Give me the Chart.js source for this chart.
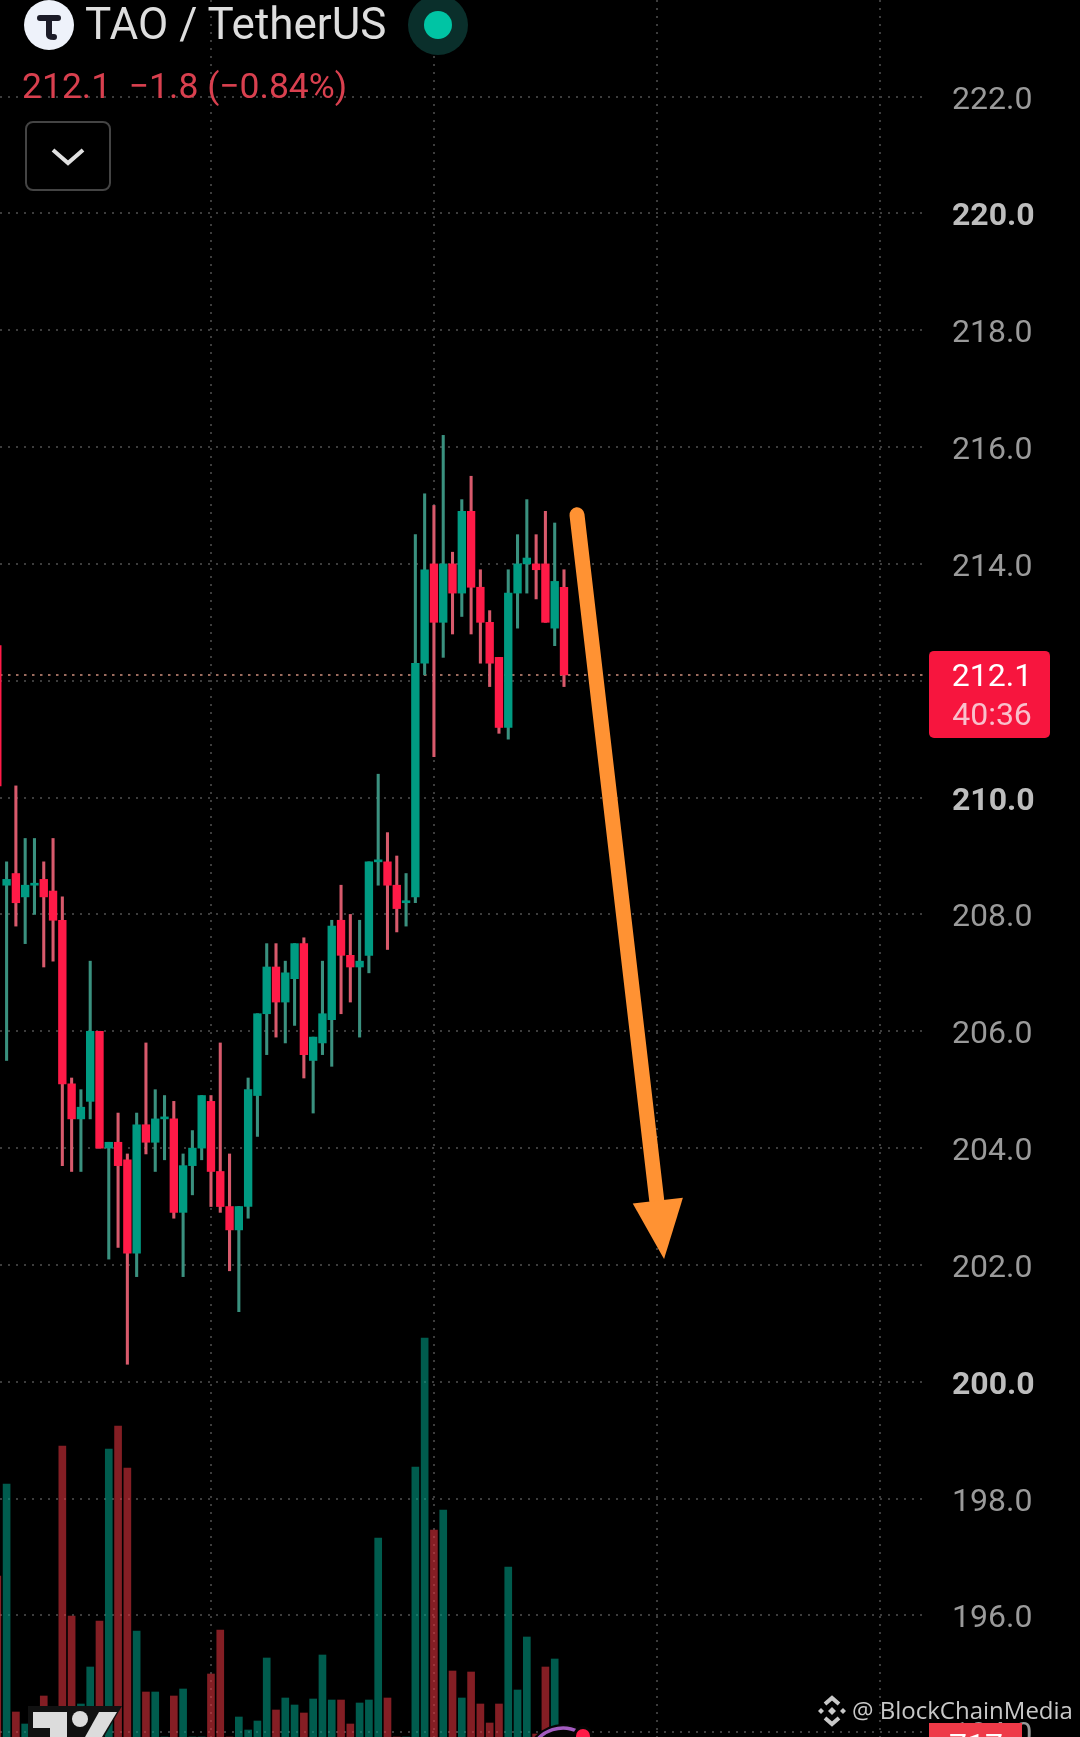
<!DOCTYPE html>
<html>
<head>
<meta charset="utf-8">
<title>TAO / TetherUS</title>
<script src="https://cdn.jsdelivr.net/npm/chart.js@4"></script>
<style>
    html, body { margin: 0; padding: 0; background: #000; }
    #wrap { position: relative; width: 1080px; height: 1737px; overflow: hidden; }
    canvas { position: absolute; left: 0; top: 0; }
    .label { position: absolute; white-space: pre; line-height: 1; font-family: Roboto, sans-serif; }
    #symbol { left: 85px; top: 2px; font-size: 44px; color: #dedede; }
    #quote { left: 22px; top: 69px; font-size: 35.5px; color: #d9404f; }
    #credit { left: 852px; top: 1698px; font-size: 24px; color: #c8c8c8; font-family: "Open Sans", sans-serif; }
</style>
</head>
<body>
<div id="wrap">
    <canvas id="chart" width="1080" height="1737"></canvas>
    <div class="label" id="symbol">TAO / TetherUS</div>
    <div class="label" id="quote">212.1  −1.8 (−0.84%)</div>
    <div class="label" id="credit">@ BlockChainMedia</div>
</div>
<script>
const opens = [212.6, 208.5, 208.7, 208.3, 208.5, 208.6, 208.4, 207.9, 205.1, 204.5, 204.8, 206.0, 204.0, 204.1, 203.8, 202.2, 204.4, 204.1, 204.5, 204.5, 202.9, 203.7, 204.0, 204.8, 203.6, 203.0, 202.6, 203.0, 204.9, 206.3, 207.1, 206.5, 206.9, 207.5, 205.5, 205.8, 206.2, 207.9, 207.3, 207.1, 207.3, 208.9, 208.9, 208.5, 208.2, 208.3, 212.3, 214.0, 213.0, 214.0, 213.5, 214.9, 213.6, 213.0, 212.4, 211.2, 213.5, 214.0, 214.0, 214.0, 212.9, 213.6];
const highs = [212.6, 208.9, 210.2, 209.3, 209.3, 208.9, 209.3, 208.3, 205.2, 205.0, 207.2, 206.0, 204.1, 204.6, 203.9, 204.6, 205.8, 205.0, 204.9, 204.8, 203.9, 204.3, 204.9, 204.9, 205.8, 203.9, 203.0, 205.2, 206.3, 207.5, 207.5, 207.2, 207.5, 207.6, 205.9, 207.2, 207.9, 208.5, 208.0, 207.9, 208.9, 210.4, 209.4, 209.0, 208.7, 214.5, 215.2, 215.0, 216.2, 214.2, 215.1, 215.5, 213.9, 213.2, 212.4, 213.9, 214.5, 215.1, 214.5, 214.9, 214.7, 213.9];
const lows = [210.2, 205.5, 207.8, 207.5, 208.0, 207.1, 207.2, 203.7, 203.6, 203.6, 204.5, 204.0, 202.1, 202.3, 200.3, 201.8, 203.9, 203.6, 203.8, 202.8, 201.8, 203.2, 203.8, 203.0, 202.9, 201.9, 201.2, 202.8, 204.2, 205.6, 205.9, 205.8, 206.1, 205.2, 204.6, 205.6, 205.4, 206.3, 206.5, 205.9, 207.0, 208.5, 207.4, 207.7, 207.8, 208.2, 212.1, 210.7, 212.4, 212.8, 213.1, 212.8, 212.3, 211.9, 211.1, 211.0, 212.9, 213.5, 213.4, 213.0, 212.6, 211.9];
const closes = [210.2, 208.6, 208.2, 208.5, 208.5, 208.3, 207.9, 205.1, 204.5, 204.7, 206.0, 204.0, 204.1, 203.7, 202.2, 204.4, 204.1, 204.5, 204.5, 202.9, 203.7, 204.0, 204.9, 203.6, 203.0, 202.6, 203.0, 205.0, 206.3, 207.1, 206.5, 207.0, 207.5, 205.6, 205.9, 206.3, 207.8, 207.3, 207.1, 207.2, 208.9, 208.9, 208.5, 208.1, 208.2, 212.3, 213.9, 213.0, 214.0, 213.5, 214.9, 213.6, 213.0, 212.3, 211.2, 213.5, 214.0, 214.1, 213.9, 213.0, 213.7, 212.1];
const volumes = [16.1, 25.3, 2.5, 1.3, 0.4, 4.1, 1.7, 29.1, 12.1, 3.3, 7.0, 11.6, 28.8, 31.1, 26.9, 10.6, 4.5, 4.5, 0, 4.1, 4.8, 0, 0, 6.3, 10.7, 0, 2.0, 0.7, 1.6, 7.9, 2.7, 3.9, 3.2, 2.4, 3.8, 8.2, 3.7, 3.7, 1.3, 3.4, 3.7, 19.9, 3.9, 0, 0, 27.0, 39.9, 20.7, 22.7, 6.6, 3.9, 6.5, 3.3, 1.4, 3.3, 17.0, 4.7, 10.0, 0.3, 7.0, 7.8, 0.5];

const priceTicks = [194, 196, 198, 200, 202, 204, 206, 208, 210, 212, 214, 216, 218, 220, 222];
const boldTicks = [200, 210, 220];
const gridCandles = [23, 47, 71, 95];
const lastPrice = 212.1;
const countdown = "40:36";
const volumeBadge = "717";

// arrow drawn on the chart: tail, neck, head left, tip, head right (candle number / price)
const arrowCandles = [62.4, 70.98, 68.4, 71.77, 73.8];
const arrowPrices = [214.84, 203.11, 203.05, 202.1, 203.15];

const GREEN = "#009b82";
const RED = "#ff1a47";
const GREEN_WICK = "#3a917f";
const RED_WICK = "#d85a6c";
const GREEN_VOL = "rgba(0, 153, 130, 0.6)";
const RED_VOL = "rgba(220, 50, 60, 0.6)";
const GRID = "#3d3d3d";

const isUp = closes.map((c, i) => c >= opens[i]);

const wicks = highs.map((h, i) => ({ x: i, y: [lows[i], h] }));
const bodies = opens.map((o, i) => ({ x: i, y: [Math.min(o, closes[i]), Math.max(o, closes[i])] }));
const volumeBars = volumes.map((v, i) => ({ x: i, y: v }));

const xMin = 0.29;
const xMax = 99.86;

// the tick context is empty while Chart.js measures the axis
const isBoldTick = c => !!c.tick && boldTicks.includes(c.tick.value);

// plot goes edge to edge, labels may run off the top and bottom
function dropPadding(scale) {
    scale.paddingTop = 0;
    scale.paddingBottom = 0;
    scale.paddingLeft = 0;
    scale.paddingRight = 0;
}

// everything Chart.js has no element for: arrow, badges and the small icons
const overlay = {
    id: "overlay",
    afterDraw(chart) {
        const ctx = chart.ctx;
        const x = chart.scales.x;
        const y = chart.scales.y;
        ctx.save();

        // arrow
        const ax = arrowCandles.map(v => x.getPixelForValue(v));
        const ay = arrowPrices.map(v => y.getPixelForValue(v));
        ctx.strokeStyle = "#ff9233";
        ctx.fillStyle = "#ff9233";
        ctx.lineWidth = 15;
        ctx.lineCap = "round";
        ctx.beginPath();
        ctx.moveTo(ax[0], ay[0]);
        ctx.lineTo(ax[1], ay[1]);
        ctx.stroke();
        ctx.beginPath();
        ctx.moveTo(ax[2], ay[2]);
        ctx.lineTo(ax[3], ay[3]);
        ctx.lineTo(ax[4], ay[4]);
        ctx.closePath();
        ctx.fill();

        // last price badge
        const py = y.getPixelForValue(lastPrice);
        ctx.fillStyle = "#f7153e";
        ctx.beginPath();
        ctx.roundRect(929, py - 24, 121, 87, 5);
        ctx.fill();
        ctx.textAlign = "center";
        ctx.textBaseline = "alphabetic";
        ctx.font = "32px Roboto";
        ctx.fillStyle = "#ffffff";
        ctx.fillText(lastPrice.toFixed(1), 992, py + 11);
        ctx.fillStyle = "#f9c0cc";
        ctx.fillText(countdown, 992, py + 50);

        // volume badge, cut off by the screen edge
        ctx.fillStyle = "#ee3a48";
        ctx.fillRect(929, 1723, 93, 20);
        ctx.fillStyle = "#ffffff";
        ctx.fillText(volumeBadge, 976, 1756);

        drawHeaderIcons(ctx);
        drawBottomIcons(ctx);
        ctx.restore();
    }
};

function drawHeaderIcons(ctx) {
    // coin
    ctx.fillStyle = "#eef2fa";
    ctx.beginPath();
    ctx.arc(49, 25, 25, 0, Math.PI * 2);
    ctx.fill();
    ctx.strokeStyle = "#1c1c28";
    ctx.lineWidth = 6;
    ctx.lineCap = "round";
    ctx.beginPath();
    ctx.moveTo(40, 18);
    ctx.lineTo(58, 18);
    ctx.moveTo(49, 18);
    ctx.lineTo(49, 35);
    ctx.quadraticCurveTo(49, 37, 54, 37);
    ctx.stroke();

    // market status dot
    ctx.fillStyle = "#0a2f2b";
    ctx.beginPath();
    ctx.arc(438, 25, 30, 0, Math.PI * 2);
    ctx.fill();
    ctx.fillStyle = "#00c4a4";
    ctx.beginPath();
    ctx.arc(438, 25, 14, 0, Math.PI * 2);
    ctx.fill();

    // collapse button
    ctx.fillStyle = "#000";
    ctx.strokeStyle = "#444";
    ctx.lineWidth = 2;
    ctx.beginPath();
    ctx.roundRect(26, 122, 84, 68, 7);
    ctx.fill();
    ctx.stroke();
    ctx.strokeStyle = "#e0e0e0";
    ctx.lineWidth = 4;
    ctx.lineCap = "butt";
    ctx.beginPath();
    ctx.moveTo(53, 150);
    ctx.lineTo(68, 163);
    ctx.lineTo(83, 150);
    ctx.stroke();
}

function drawBottomIcons(ctx) {
    // watermark logo in the corner
    ctx.fillStyle = "#111";
    ctx.beginPath();
    ctx.moveTo(28, 1706);
    ctx.lineTo(122, 1706);
    ctx.lineTo(104, 1737);
    ctx.lineTo(28, 1737);
    ctx.closePath();
    ctx.fill();
    ctx.fillStyle = "#dcdcdc";
    ctx.fillRect(33, 1712, 34, 16);
    ctx.fillRect(50, 1712, 17, 25);
    ctx.beginPath();
    ctx.arc(80, 1719, 8, 0, Math.PI * 2);
    ctx.fill();
    ctx.beginPath();
    ctx.moveTo(99, 1712);
    ctx.lineTo(117, 1712);
    ctx.lineTo(102, 1737);
    ctx.lineTo(85, 1737);
    ctx.closePath();
    ctx.fill();

    // purple ring with red dot at the bottom
    ctx.fillStyle = "#050505";
    ctx.beginPath();
    ctx.arc(563, 1762, 38, 0, Math.PI * 2);
    ctx.fill();
    ctx.strokeStyle = "#a35cc0";
    ctx.lineWidth = 3.5;
    ctx.beginPath();
    ctx.arc(563, 1762, 34, Math.PI * 1.15, Math.PI * 1.65);
    ctx.stroke();
    ctx.fillStyle = "#050505";
    ctx.beginPath();
    ctx.arc(583, 1736, 10, 0, Math.PI * 2);
    ctx.fill();
    ctx.fillStyle = "#ff1a47";
    ctx.beginPath();
    ctx.arc(583, 1736, 7, 0, Math.PI * 2);
    ctx.fill();

    // binance style mark next to the credit text
    ctx.fillStyle = "#c8c8c8";
    const diamond = (cx, cy, r) => {
        ctx.beginPath();
        ctx.moveTo(cx, cy - r);
        ctx.lineTo(cx + r, cy);
        ctx.lineTo(cx, cy + r);
        ctx.lineTo(cx - r, cy);
        ctx.closePath();
        ctx.fill();
    };
    diamond(832, 1711, 4);
    diamond(821, 1711, 3);
    diamond(843, 1711, 3);
    ctx.strokeStyle = "#c8c8c8";
    ctx.lineWidth = 4;
    ctx.beginPath();
    ctx.moveTo(825, 1704);
    ctx.lineTo(832, 1698);
    ctx.lineTo(839, 1704);
    ctx.moveTo(825, 1718);
    ctx.lineTo(832, 1724);
    ctx.lineTo(839, 1718);
    ctx.stroke();
}

new Chart(document.getElementById("chart"), {
    type: "bar",
    data: {
        datasets: [
            {
                label: "Body",
                data: bodies,
                order: 1,
                grouped: false,
                barThickness: 7.7,
                minBarLength: 2,
                backgroundColor: isUp.map(up => up ? GREEN : RED),
                yAxisID: "y"
            },
            {
                label: "Wick",
                data: wicks,
                order: 2,
                grouped: false,
                barThickness: 2.4,
                backgroundColor: isUp.map(up => up ? GREEN_WICK : RED_WICK),
                yAxisID: "y"
            },
            {
                type: "line",
                label: "Last price",
                data: [{ x: xMin, y: lastPrice }, { x: xMax, y: lastPrice }],
                order: 3,
                borderColor: "#d0907e",
                borderWidth: 1.5,
                borderDash: [2.5, 5.5],
                pointRadius: 0,
                yAxisID: "y"
            },
            {
                label: "Volume",
                data: volumeBars,
                order: 4,
                grouped: false,
                barThickness: 7,
                backgroundColor: isUp.map(up => up ? GREEN_VOL : RED_VOL),
                yAxisID: "volume"
            }
        ]
    },
    options: {
        responsive: false,
        animation: false,
        devicePixelRatio: 1,
        layout: { padding: 0 },
        plugins: { legend: { display: false }, tooltip: { enabled: false } },
        scales: {
            x: {
                type: "linear",
                offset: false,
                min: xMin,
                max: xMax,
                afterBuildTicks: scale => { scale.ticks = gridCandles.map(v => ({ value: v })); },
                afterFit: scale => { dropPadding(scale); scale.height = 0; },
                ticks: { display: false },
                grid: { offset: false, color: GRID, lineWidth: 2, drawTicks: false },
                border: { display: false, dash: [2, 6] }
            },
            y: {
                position: "right",
                min: 193.92,
                max: 223.652,
                afterBuildTicks: scale => { scale.ticks = priceTicks.map(v => ({ value: v })); },
                afterFit: scale => { dropPadding(scale); scale.width = 155; },
                ticks: {
                    autoSkip: false,
                    padding: 27,
                    labelOffset: 4,
                    crossAlign: "near",
                    callback: v => v.toFixed(1),
                    color: c => isBoldTick(c) ? "#bdbdbd" : "#9a9a9a",
                    font: c => ({
                        family: "Roboto",
                        size: 32,
                        weight: isBoldTick(c) ? "bold" : "normal"
                    })
                },
                grid: { color: GRID, lineWidth: 2, drawTicks: false },
                border: { display: false, dash: [2, 6] }
            },
            volume: {
                display: false,
                min: 0,
                max: 173.7
            }
        }
    },
    plugins: [overlay]
});
</script>
</body>
</html>
